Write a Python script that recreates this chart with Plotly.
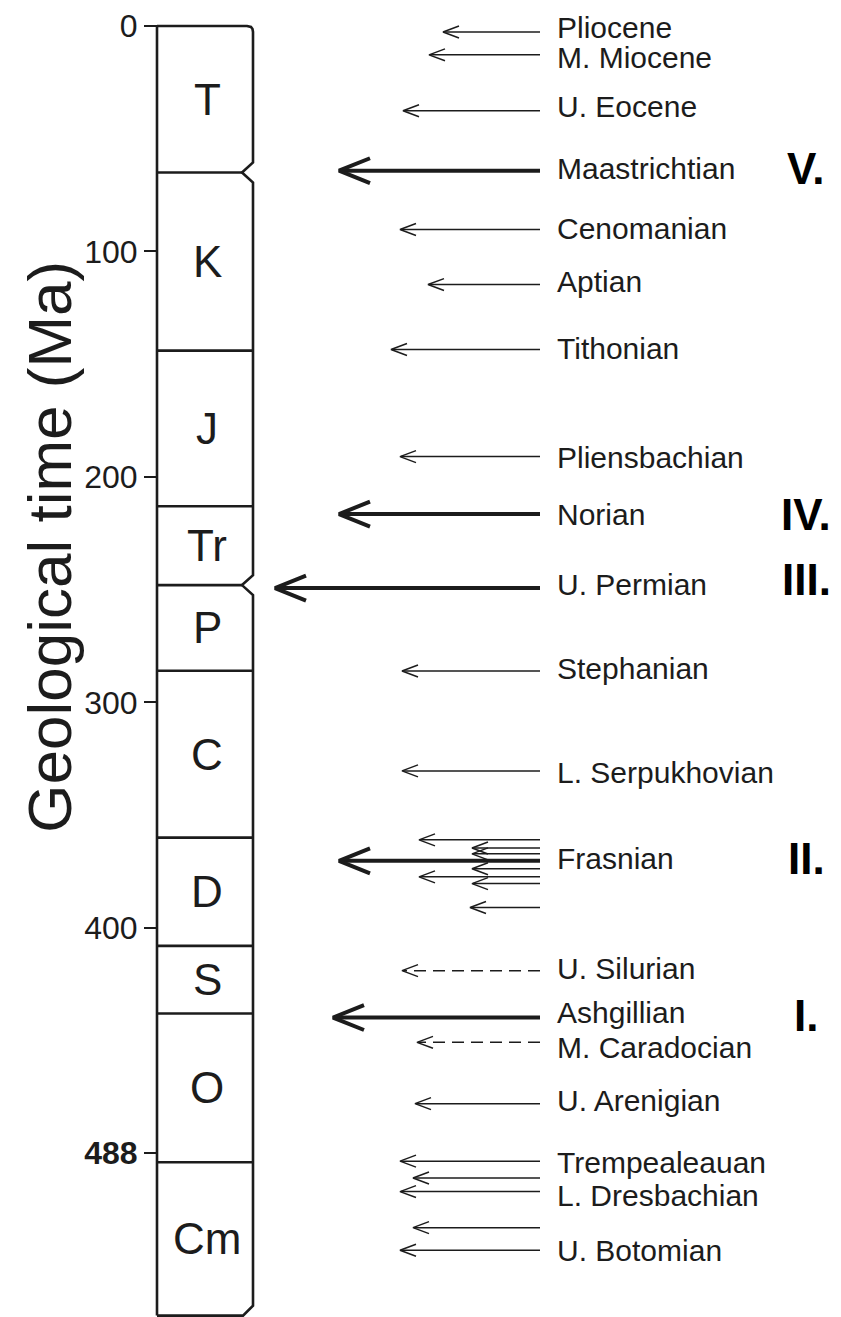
import plotly.graph_objects as go

# ---- data -------------------------------------------------------------
# period column: boundaries (Ma, top -> bottom) and period symbols
period_bounds = [0, 65, 144, 213, 248, 286, 360, 408, 438, 504, 572]
period_names = ["T", "K", "J", "Tr", "P", "C", "D", "S", "O", "Cm"]
notched_bounds = [65, 248]

# y ticks (the last one is relabelled 488 in the original figure)
tick_vals = [0, 100, 200, 300, 400, 500]
tick_text = ["0", "100", "200", "300", "400", "<b>488</b>"]

# stage labels and where they sit (Ma)
stage_names = [
    "Pliocene", "M. Miocene", "U. Eocene", "Maastrichtian", "Cenomanian",
    "Aptian", "Tithonian", "Pliensbachian", "Norian", "U. Permian",
    "Stephanian", "L. Serpukhovian", "Frasnian", "U. Silurian", "Ashgillian",
    "M. Caradocian", "U. Arenigian", "Trempealeauan", "L. Dresbachian",
    "U. Botomian",
]
stage_label_age = [
    0.8, 13.8, 35.8, 63.3, 90.0, 113.4, 143.0, 191.3, 216.5, 247.6,
    285.2, 331.3, 369.4, 418.0, 437.6, 453.0, 476.5, 504.0, 518.6, 543.0,
]

# extinction arrows: age (Ma), tip reach (x units), kind
arrow_age = [
    2.7, 12.8, 37.6, 64.2, 90.3, 114.7, 143.5, 191.0, 216.5, 249.3,
    286.1, 330.4,
    361.0, 364.6, 367.2, 370.3, 373.8, 377.4, 380.4, 391.0,
    419.0, 439.8, 450.8, 478.0, 503.5, 511.0, 517.0, 533.0, 543.0,
]
arrow_tip = [
    443, 429, 403, 339, 400, 428, 391, 400, 339, 275,
    402, 402,
    419, 472, 472, 339, 472, 419, 472, 470,
    402, 333, 417, 415, 400, 413, 400, 413, 400,
]
arrow_kind = [
    "thin", "thin", "thin", "major", "thin", "thin", "thin", "thin", "major", "major",
    "thin", "thin",
    "thin", "thin", "thin", "major", "thin", "thin", "thin", "thin",
    "dash", "major", "dash", "thin", "thin", "thin", "thin", "thin", "thin",
]

# the five big mass extinctions
big_five = ["V.", "IV.", "III.", "II.", "I."]
big_five_age = [63.3, 216.5, 245.5, 369.4, 439.0]

# ---- geometry / style -------------------------------------------------
PAGE_PAD = 8                      # default body margin of the html page
W, H = 841 - PAGE_PAD, 1317 - PAGE_PAD
PX_PER_MA = 2.258
ZERO_PX = 24 - PAGE_PAD           # where 0 Ma lands inside the figure
Y_TOP = -ZERO_PX / PX_PER_MA
Y_BOT = (H - ZERO_PX) / PX_PER_MA
COL_L, COL_R = 157, 253
INK = "#1c1c1c"
FONT = "Liberation Sans, Arial, sans-serif"
TAIL_X = 540


def ma(px):
    return px / PX_PER_MA


fig = go.Figure()

# column outline
xs, ys = [], []
bottom = period_bounds[-1]
xs += [COL_L, COL_L, None]
ys += [bottom, 0, None]
xs += [COL_L, COL_R - 6, COL_R - 2, COL_R - 0.5, COL_R]
ys += [0, 0, ma(1), ma(3), ma(6)]
for b in period_bounds[1:-1]:
    if b in notched_bounds:
        xs += [COL_R, COL_R - 11, COL_R]
        ys += [b - ma(10), b, b + ma(10)]
xs += [COL_R, COL_R - 10, COL_L, None]
ys += [bottom - ma(10), bottom, bottom, None]
for b in period_bounds[1:-1]:
    right = COL_R - 11 if b in notched_bounds else COL_R
    xs += [COL_L, right, None]
    ys += [b, b, None]
fig.add_trace(go.Scatter(x=xs, y=ys, mode="lines", hoverinfo="skip",
                         line=dict(color=INK, width=2.6)))

# arrows
styles = {
    "thin": dict(width=1.5, head_len=16, head_half=6, dash="solid"),
    "dash": dict(width=1.5, head_len=16, head_half=6, dash="12px,7px"),
    "major": dict(width=4, head_len=31, head_half=12.5, dash="solid"),
}
for kind, st in styles.items():
    sx, sy, hx, hy = [], [], [], []
    for age, tip, k in zip(arrow_age, arrow_tip, arrow_kind):
        if k != kind:
            continue
        sx += [TAIL_X, tip + (3 if kind == "major" else 1), None]
        sy += [age, age, None]
        hx += [tip + st["head_len"], tip, tip + st["head_len"], None]
        hy += [age - ma(st["head_half"]), age, age + ma(st["head_half"]), None]
    fig.add_trace(go.Scatter(x=sx, y=sy, mode="lines", hoverinfo="skip",
                             line=dict(color=INK, width=st["width"], dash=st["dash"])))
    fig.add_trace(go.Scatter(x=hx, y=hy, mode="lines", hoverinfo="skip",
                             line=dict(color=INK, width=st["width"])))

annotations = []
for name, top, bot in zip(period_names, period_bounds[:-1], period_bounds[1:]):
    annotations.append(dict(x=207, y=(top + bot) / 2, text=name, showarrow=False,
                            font=dict(family=FONT, size=44, color=INK)))
for name, age in zip(stage_names, stage_label_age):
    annotations.append(dict(x=555, y=age, text=name, showarrow=False, xanchor="left",
                            font=dict(family=FONT, size=30, color=INK)))
for name, age in zip(big_five, big_five_age):
    annotations.append(dict(x=806, y=age, text="<b>%s</b>" % name, showarrow=False,
                            font=dict(family=FONT, size=44, color="#000")))
annotations.append(dict(x=50, y=231, text="Geological time (Ma)", showarrow=False,
                        textangle=-90, font=dict(family=FONT, size=62, color=INK)))

fig.update_layout(
    width=W,
    height=H,
    autosize=False,
    margin=dict(l=0, r=0, t=0, b=0),
    plot_bgcolor="white",
    paper_bgcolor="white",
    showlegend=False,
    annotations=annotations,
    xaxis=dict(range=[PAGE_PAD, PAGE_PAD + W], visible=False, domain=[0, 1]),
    yaxis=dict(
        range=[Y_BOT, Y_TOP],
        anchor="free",
        position=(COL_L - PAGE_PAD) / W,
        showgrid=False,
        zeroline=False,
        showline=False,
        ticks="outside",
        ticklen=13,
        tickwidth=2.4,
        tickcolor=INK,
        tickvals=tick_vals,
        ticktext=tick_text,
        ticklabeloverflow="allow",
        tickfont=dict(family=FONT, size=32, color=INK),
    ),
)

fig.write_html("out.html")
